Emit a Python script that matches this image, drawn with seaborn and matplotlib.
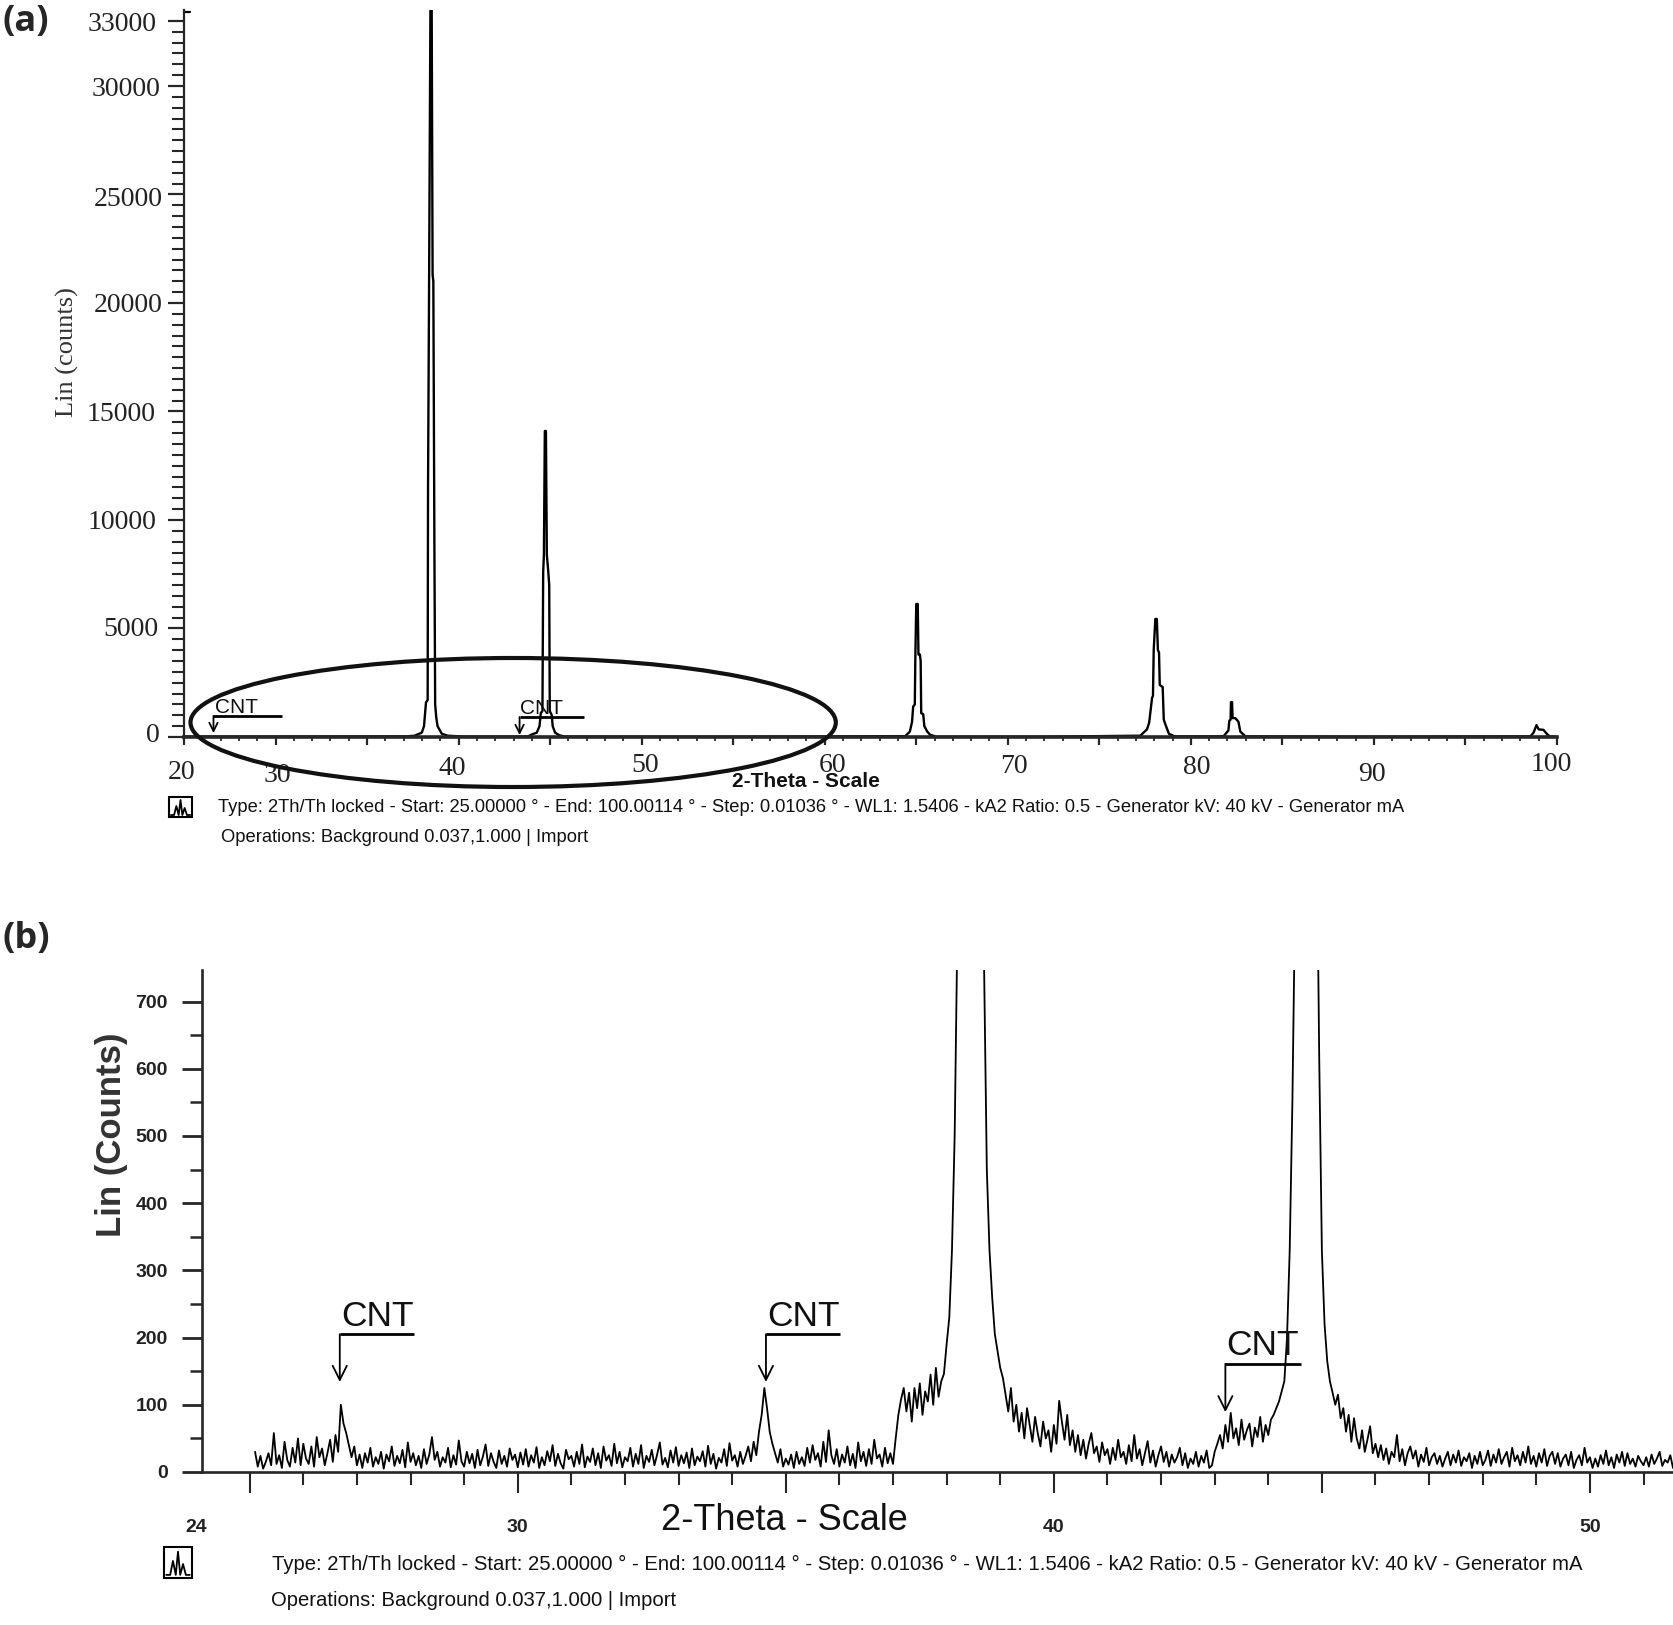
import numpy as np
import seaborn as sns
import matplotlib.pyplot as plt
from matplotlib.lines import Line2D
from matplotlib.patches import Ellipse, Rectangle
from matplotlib.transforms import ScaledTranslation

sns.set_style("ticks")
plt.rcParams['font.family'] = ['Liberation Sans', 'DejaVu Sans']

W, H = 1673, 1625
PT = 0.72  # one pixel in points at dpi 100

# panel (a): whole pattern
a_x = [25, 30, 37.19, 37.6, 37.99, 38.11, 38.22, 38.31, 38.33, 38.39, 38.46, 38.53, 38.58, 38.62, 38.68,
       38.72, 38.78, 38.85, 39.08, 39.4, 40.25, 43.3, 43.8, 44.0, 44.27, 44.42, 44.49, 44.58, 44.62, 44.66,
       44.71, 44.77, 44.82, 44.9, 44.95, 44.98, 45.09, 45.14, 45.27, 45.5, 45.8, 55, 64.4, 64.65, 64.77,
       64.83, 64.92, 64.95, 65.0, 65.08, 65.12, 65.2, 65.24, 65.27, 65.38, 65.44, 65.6, 65.76, 66.13, 72,
       77.24, 77.6, 77.72, 77.88, 77.93, 77.97, 78.06, 78.14, 78.2, 78.26, 78.3, 78.46, 78.52, 78.6, 78.8,
       79.1, 81.78, 82.05, 82.1, 82.17, 82.19, 82.25, 82.28, 82.43, 82.6, 82.7, 82.98, 90, 98.55, 98.72,
       98.88, 99.0, 99.26, 99.46, 99.6, 100]
a_counts = [20, 20, 30, 60, 200, 500, 1600, 1700, 11400, 21300, 33500, 33500, 21300, 21000, 8400,
            1500, 900, 500, 150, 60, 20, 20, 30, 120, 200, 500, 1100, 1200, 7600, 8400,
            14100, 14100, 8400, 7600, 7000, 1200, 1000, 500, 200, 80, 20, 15, 40, 250, 700,
            1400, 1500, 3700, 6130, 6130, 3800, 3800, 3500, 1100, 1050, 500, 250, 100, 10, 15,
            60, 350, 650, 1800, 1900, 4000, 5440, 5440, 4000, 3900, 2400, 2300, 800, 600, 150,
            30, 30, 300, 750, 800, 1610, 1610, 870, 870, 700, 250, 30, 15, 30, 200,
            550, 350, 330, 130, 30, 10]
a_xticks = [25, 30, 35, 40, 45, 50, 55, 60, 65, 70, 75, 80, 85, 90, 95, 100]
a_xlabels = ['20', '30', '', '40', '', '50', '', '60', '', '70', '', '80', '', '90', '', '100']
a_xnudge = [(-2, 4), (2, 7), (0, 0), (-6, 0), (0, 0), (3, -3), (0, 0), (8, -3), (0, 0), (6, -2), (0, 0),
            (6, -1), (0, 0), (-2, 6), (0, 0), (-6, -4)]
a_yticks = [0, 5000, 10000, 15000, 20000, 25000, 30000, 33000]
a_ylabels = ['0', '5000', '10000', '15000', '20000', '25000', '30000', '33000']
a_ynudge = [(0, -5), (-2, -2), (-4, 0), (-4, 0), (3, 0), (3, 2), (0, 1), (-3, 1)]
a_cnt_x = [26.61, 43.33]
a_cnt_top = [968, 922]
a_cnt_tip = [180, 90]
a_cnt_len = [3.74, 3.52]

# panel (b): zoom on the low counts, one row is one degree from x.1 on
b_start = 25.1
b_step = 0.05
b_counts = [
    30, 8, 24, 5, 15, 28, 10, 58, 12, 25, 6, 45, 18, 8, 36, 14, 50, 10, 42, 20,
    12, 38, 8, 52, 22, 35, 10, 28, 48, 15, 55, 30, 100, 72, 58, 40, 22, 38, 10, 26,
    6, 28, 14, 36, 8, 22, 12, 30, 5, 26, 16, 38, 9, 24, 13, 33, 7, 44, 15, 28,
    10, 24, 6, 34, 12, 26, 52, 18, 30, 8, 22, 14, 36, 7, 25, 11, 47, 16, 8, 30,
    13, 27, 6, 33, 10, 23, 41, 9, 28, 15, 6, 32, 12, 24, 8, 35, 18, 26, 7, 29,
    11, 34, 8, 25, 14, 37, 6, 22, 10, 31, 16, 40, 9, 27, 13, 5, 33, 19, 24, 8,
    30, 12, 41, 7, 23, 15, 35, 10, 28, 6, 38, 17, 25, 9, 42, 13, 30, 7, 22, 16,
    36, 8, 27, 12, 40, 6, 24, 15, 33, 10, 26, 44, 11, 21, 7, 32, 14, 37, 9, 25,
    13, 29, 6, 35, 10, 23, 16, 31, 8, 39, 12, 27, 5, 21, 14, 34, 9, 43, 17, 25,
    8, 30, 12, 24, 38, 16, 45, 25, 60, 85, 125, 95, 60, 42, 28, 14, 34, 8, 20, 11,
    26, 6, 30, 12, 22, 9, 36, 14, 40, 18, 28, 8, 45, 15, 62, 25, 12, 34, 8, 26,
    14, 38, 10, 27, 6, 44, 16, 30, 9, 34, 12, 48, 20, 26, 8, 36, 13, 28, 12, 50,
    85, 108, 125, 90, 118, 75, 125, 95, 132, 85, 120, 105, 145, 100, 155, 112, 135, 146, 190, 230,
    330, 500, 800, 2000, 6000, 15000, 30000, 30000, 15000, 6000, 2000, 1000, 746, 450, 330, 260, 205, 180, 155, 140,
    115, 90, 125, 75, 100, 60, 88, 50, 95, 70, 45, 82, 58, 38, 75, 50, 62, 30, 70, 42,
    106, 75, 48, 85, 40, 62, 30, 55, 25, 48, 20, 42, 58, 28, 38, 15, 44, 25, 34, 12,
    36, 18, 48, 22, 30, 12, 40, 16, 55, 20, 34, 10, 28, 46, 14, 32, 8, 25, 38, 15,
    30, 8, 26, 14, 22, 36, 10, 28, 6, 20, 12, 30, 8, 24, 14, 32, 6, 10, 30, 42,
    55, 35, 70, 45, 88, 50, 65, 40, 78, 48, 62, 72, 38, 66, 52, 82, 45, 70, 55, 78,
    85, 95, 105, 120, 135, 200, 330, 550, 850, 2000, 6000, 12000, 14000, 12000, 6000, 2500, 1000, 620, 330, 220,
    165, 135, 118, 100, 115, 80, 95, 60, 85, 45, 80, 50, 35, 62, 30, 48, 68, 28, 42, 22,
    40, 18, 35, 12, 30, 22, 55, 16, 34, 10, 28, 38, 20, 32, 8, 26, 15, 36, 10, 22,
    28, 12, 24, 8, 20, 30, 10, 26, 14, 32, 9, 22, 16, 28, 6, 24, 12, 30, 10, 18,
    32, 9, 26, 14, 34, 12, 22, 30, 8, 36, 16, 25, 10, 30, 14, 38, 12, 24, 8, 28,
    14, 34, 9, 24, 30, 12, 28, 8, 20, 26, 10, 30, 6, 18, 25, 10, 36, 14, 22, 6,
    20, 8, 25, 12, 32, 10, 22, 6, 26, 14, 30, 9, 28, 12, 20, 8, 24, 16, 10, 22,
    8, 26, 12, 20, 30, 9, 18, 14, 25, 6, 16,
]
b_xlabels = [24, 30, 40, 50]
b_yticks = [0, 100, 200, 300, 400, 500, 600, 700]
b_cnt_x = [26.68, 34.63, 43.2]
b_cnt_top = [205, 205, 161]
b_cnt_tip = [134, 134, 89]
b_cnt_len = [1.38, 1.38, 1.42]

info_1 = ('Type: 2Th/Th locked - Start: 25.00000 ° - End: 100.00114 ° - Step: 0.01036 ° - WL1: 1.5406 - '
          'kA2 Ratio: 0.5 - Generator kV: 40 kV - Generator mA')
info_2 = 'Operations: Background 0.037,1.000 | Import'


def fx(x):
    return x / W


def fy(y):
    return 1 - y / H


def box(left, top, right, bottom):
    return [fx(left), fy(bottom), fx(right - left), (bottom - top) / H]


def nudge(label, dx, dy):
    # moves a tick label by some pixels, y counted downwards
    shift = ScaledTranslation(dx / 100, -dy / 100, fig.dpi_scale_trans)
    label.set_transform(label.get_transform() + shift)


def pattern_icon(left, top, right, bottom):
    fig.add_artist(Rectangle((fx(left), fy(bottom)), fx(right - left), (bottom - top) / H, fill=False,
                             ec='black', lw=1.5, transform=fig.transFigure))
    xs = np.array([0.08, 0.22, 0.32, 0.42, 0.5, 0.58, 0.68, 0.78, 0.92])
    ys = np.array([0.9, 0.9, 0.45, 0.9, 0.15, 0.9, 0.55, 0.9, 0.9])
    fig.add_artist(Line2D(fx(left + xs * (right - left)), fy(top + ys * (bottom - top)), color='black', lw=1.3,
                          transform=fig.transFigure))


def cnt_mark(ax, x, top, tip, length, text_x, text_y, size):
    ax.plot([x, x + length], [top, top], color='black', lw=2, clip_on=False, solid_capstyle='butt')
    ax.annotate('', xy=(x, tip), xytext=(x, top), annotation_clip=False,
                arrowprops=dict(arrowstyle='->', color='black', lw=1.3, shrinkA=0, shrinkB=0, mutation_scale=size))
    ax.text(text_x, text_y, 'CNT', fontsize=size, va='baseline', ha='left', color='#111111', clip_on=False)


fig = plt.figure(figsize=(W / 100, H / 100), dpi=100)

# panel (a)
ax1 = fig.add_axes(box(184, 10, 1557, 737))
ax1.patch.set_alpha(0)
sns.lineplot(x=a_x, y=a_counts, ax=ax1, estimator=None, sort=False, color='black', linewidth=1.7, legend=False)
ax1.set_xlim(25, 100)
ax1.set_ylim(0, 33500)
sns.despine(ax=ax1)
ax1.spines['left'].set_linewidth(1.6)
ax1.spines['bottom'].set_linewidth(2.6)
ax1.set_xticks(a_xticks, a_xlabels, family='Liberation Serif', fontsize=20, color='#222222')
ax1.set_xticks(range(25, 101), minor=True)
ax1.set_yticks(a_yticks, a_ylabels, family='Liberation Serif', fontsize=20, color='#222222')
ax1.set_yticks(range(0, 33500, 500), minor=True)
ax1.tick_params(axis='x', which='major', length=8 * PT, width=1.6, pad=11 * PT)
ax1.tick_params(axis='x', which='minor', length=4 * PT, width=1.3)
ax1.tick_params(axis='y', which='major', length=16 * PT, width=1.6, pad=8 * PT)
ax1.tick_params(axis='y', which='minor', length=12 * PT, width=1.5)
for lab, (dx, dy) in zip(ax1.get_xticklabels(), a_xnudge):
    nudge(lab, dx, dy)
for lab, (dx, dy) in zip(ax1.get_yticklabels(), a_ynudge):
    nudge(lab, dx, dy)
ax1.plot([0, 0.0045], [0.9975, 0.9975], transform=ax1.transAxes, color='black', lw=1.6, clip_on=False)
ax1.set_ylabel('Lin (counts)', family='Liberation Serif', fontsize=19, color='#333333', va='center')
ax1.yaxis.set_label_coords(fx(67), fy(352), transform=fig.transFigure)
ax1.set_xlabel('2-Theta - Scale', fontsize=15, fontweight='bold', color='#111111', va='center')
ax1.xaxis.set_label_coords(fx(806), fy(781), transform=fig.transFigure)
ax1.add_patch(Ellipse((42.98, 668), 35.25, 5945, fill=False, ec='#111111', lw=3, clip_on=False, zorder=5))
cnt_mark(ax1, a_cnt_x[0], a_cnt_top[0], a_cnt_tip[0], a_cnt_len[0], 26.7, 1106, 15)
cnt_mark(ax1, a_cnt_x[1], a_cnt_top[1], a_cnt_tip[1], a_cnt_len[1], 43.33, 1060, 15)

# panel (b)
b_x = np.round(b_start + b_step * np.arange(len(b_counts)), 2)
ax2 = fig.add_axes(box(202, 970, 1673, 1472))
ax2.patch.set_alpha(0)
sns.lineplot(x=b_x, y=b_counts, ax=ax2, estimator=None, sort=False, color='black', linewidth=1.3, legend=False)
ax2.set_xlim(24.11, 51.55)
ax2.set_ylim(0, 747)
sns.despine(ax=ax2)
ax2.spines['left'].set_linewidth(1.9)
ax2.spines['bottom'].set_linewidth(1.9)
ax2.set_xticks([25, 30, 35, 40, 45, 50], [''] * 6)
ax2.set_xticks(range(25, 52), minor=True)
ax2.set_yticks(b_yticks, [str(v) for v in b_yticks], fontsize=14, fontweight='bold', color='#222222')
ax2.set_yticks(range(50, 750, 100), minor=True)
ax2.tick_params(axis='x', which='major', length=21 * PT, width=1.5)
ax2.tick_params(axis='x', which='minor', length=13 * PT, width=1.5)
ax2.tick_params(axis='y', which='major', length=20 * PT, width=2, pad=14 * PT)
ax2.tick_params(axis='y', which='minor', length=12 * PT, width=1.8)
for v in b_xlabels:
    ax2.annotate(str(v), xy=(v, 0), xycoords=('data', 'axes fraction'), xytext=(0, -56 * PT),
                 textcoords='offset points', ha='center', va='center', fontsize=14, fontweight='bold', color='#222222')
ax2.set_ylabel('Lin (Counts)', fontsize=25, fontweight='bold', color='#333333', va='center')
ax2.yaxis.set_label_coords(fx(111), fy(1135), transform=fig.transFigure)
ax2.set_xlabel('2-Theta - Scale', fontsize=26, color='#111111', va='center')
ax2.xaxis.set_label_coords(fx(784), fy(1520), transform=fig.transFigure)
cnt_x_text = [26.7, 34.65, 43.22]
cnt_y_text = [217, 217, 174]
for i in range(3):
    cnt_mark(ax2, b_cnt_x[i], b_cnt_top[i], b_cnt_tip[i], b_cnt_len[i], cnt_x_text[i], cnt_y_text[i], 25.5)

# texts around the panels
fig.text(fx(2), fy(22), '(a)', family='Open Sans', fontsize=26, fontweight='bold', va='center')
fig.text(fx(2), fy(939), '(b)', family='Open Sans', fontsize=26, fontweight='bold', va='center')
fig.text(fx(218), fy(807), info_1, fontsize=13.2, color='#111111', va='center')
fig.text(fx(221), fy(838), info_2, fontsize=13.2, color='#111111', va='center')
fig.text(fx(272), fy(1564), info_1, fontsize=14.6, color='#111111', va='center')
fig.text(fx(271), fy(1601), info_2, fontsize=14.6, color='#111111', va='center')
pattern_icon(169, 797, 192, 817)
pattern_icon(164, 1547, 192, 1578)

plt.savefig('out.png', dpi=100)
